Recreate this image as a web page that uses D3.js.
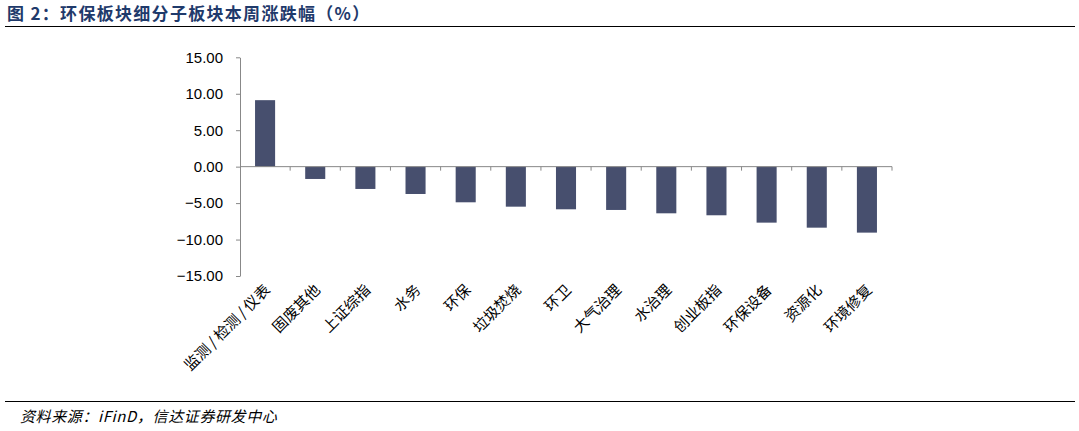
<!DOCTYPE html>
<html><head><meta charset="utf-8">
<script src="https://cdn.jsdelivr.net/npm/d3@7/dist/d3.min.js"></script>
<style>body{margin:0;background:#fff;}svg{display:block;}</style>
</head><body>
<svg id="c" width="1079" height="431"></svg>
<script>
const categories = ["监测/检测/仪表","固废其他","上证综指","水务","环保","垃圾焚烧","环卫","大气治理","水治理","创业板指","环保设备","资源化","环境修复"];
const values = [9.12,-1.69,-3.06,-3.75,-4.89,-5.49,-5.85,-5.94,-6.40,-6.67,-7.68,-8.37,-9.05];
const yTicks = [15,10,5,0,-5,-10,-15];
const title = "图 2：环保板块细分子板块本周涨跌幅（%）";
const source = "资料来源：iFinD，信达证券研发中心";

const svg = d3.select("#c");
const x = d3.scaleBand().domain(categories).range([240, 892]).paddingInner(0.6).paddingOuter(0.3);
const y = d3.scaleLinear().domain([-15, 15]).range([276, 57.3]);

// title
svg.append("text").attr("x", 7).attr("y", 20).attr("font-family","Noto Sans CJK SC, sans-serif")
  .attr("font-size", 17).attr("font-weight","bold").attr("letter-spacing",1.3).attr("fill","#1f3a6b").text(title);
svg.append("line").attr("x1",5).attr("x2",1075).attr("y1",26.5).attr("y2",26.5).attr("stroke","#000").attr("stroke-width",1);

// y axis
const yAxis = d3.axisLeft(y).tickValues(yTicks).tickFormat(d3.format(".2f")).tickSize(4).tickSizeOuter(0);
const gy = svg.append("g").attr("transform","translate(240,0)").call(yAxis);
gy.select(".domain").attr("stroke","#888");
gy.selectAll(".tick line").attr("stroke","#888");
gy.selectAll(".tick text").attr("font-family","Liberation Sans, Arial, sans-serif").attr("font-size",15).attr("fill","#000").attr("x",-17);

// bars
svg.append("g").selectAll("rect").data(values).join("rect")
  .attr("x",(d,i)=>x(categories[i]))
  .attr("width",x.bandwidth())
  .attr("y",d=>y(Math.max(0,d)))
  .attr("height",d=>Math.abs(y(d)-y(0)))
  .attr("fill","#474f6e");

// x axis at zero
const n = categories.length;
const bounds = d3.range(1, n + 1).map(i => x.range()[0] + i * (x.range()[1] - x.range()[0]) / n);
const gx = svg.append("g");
gx.append("line").attr("x1",240).attr("x2",892).attr("y1",y(0)).attr("y2",y(0)).attr("stroke","#888");
gx.selectAll("line.t").data(bounds).join("line").attr("class","t")
  .attr("x1",d=>d).attr("x2",d=>d).attr("y1",y(0)).attr("y2",y(0)+4).attr("stroke","#888");

// category labels
const labels = svg.append("g").selectAll("text").data(categories).join("text")
  .attr("transform",(d)=>`translate(${x(d)+x.bandwidth()/2+6},${291}) rotate(-45)`)
  .attr("text-anchor","end")
  .attr("font-family","Noto Sans CJK SC, sans-serif").attr("font-size",15).attr("fill","#000");
labels.each(function(d){
  const t = d3.select(this);
  const parts = d.split(/(\/)/);
  parts.forEach(p => {
    if (!p) return;
    const s = t.append("tspan").text(p);
    if (p === "/") s.attr("dx", 3);
    else if (parts.indexOf(p) > 0) s.attr("dx", 3);
  });
});

// footer
svg.append("line").attr("x1",5).attr("x2",1075).attr("y1",401.5).attr("y2",401.5).attr("stroke","#000").attr("stroke-width",1);
svg.append("text").attr("x",20).attr("y",422).attr("font-family","Noto Sans CJK SC, serif")
  .attr("font-size",15).attr("font-style","italic").attr("letter-spacing",0.6).attr("fill","#000").text(source);
</script>
</body></html>
